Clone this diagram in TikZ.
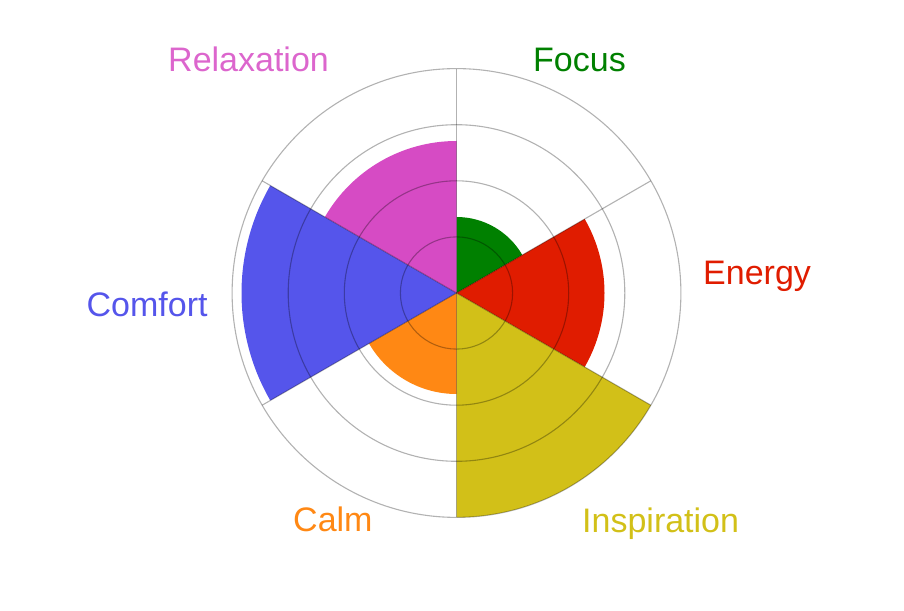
\documentclass[tikz,border=0pt]{standalone}
\usepackage{fontspec}
\setmainfont{Liberation Sans}
\definecolor{cfocus}{RGB}{0,128,0}
\definecolor{cenergy}{RGB}{224,28,0}
\definecolor{cinsp}{RGB}{210,192,24}
\definecolor{ccalm}{RGB}{255,136,20}
\definecolor{ccomfort}{RGB}{85,85,235}
\definecolor{crelax}{RGB}{214,75,196}
\tikzset{
  gridline/.style={draw=black, draw opacity=0.3, line width=1.1pt},
  lbl/.style={anchor=base west, inner sep=0pt, font=\fontsize{34}{40}\selectfont}
}
\begin{document}
\begin{tikzpicture}[x=1pt,y=1pt]
\useasboundingbox (0,0) rectangle (904,610);
\coordinate (C) at (456.5,317);
% sectors
\fill[cfocus]   (C) -- ++(30:76)   arc[start angle=30,  end angle=90,  radius=76]   -- cycle;
\fill[cenergy]  (C) -- ++(-30:148) arc[start angle=-30, end angle=30,  radius=148]  -- cycle;
\fill[cinsp]    (C) -- ++(-90:224.4) arc[start angle=-90, end angle=-30, radius=224.4] -- cycle;
\fill[ccalm]    (C) -- ++(-150:101) arc[start angle=-150, end angle=-90, radius=101] -- cycle;
\fill[ccomfort] (C) -- ++(150:215) arc[start angle=150, end angle=210, radius=215] -- cycle;
\fill[crelax]   (C) -- ++(90:152)  arc[start angle=90,  end angle=150, radius=152]  -- cycle;
% grid circles
\foreach \r in {56.1,112.2,168.3,224.4}
  \draw[gridline] (C) circle[radius=\r];
% radial lines
\foreach \a in {90,30,-30,-90,-150,150}
  \draw[gridline] (C) -- ++(\a:224.4);
% labels
\node[lbl, text=crelax!85!white]   (lrelax)   at (168,538) {Relaxation};
\node[lbl, text=cfocus]   (lfocus)   at (533,538) {Focus};
\node[lbl, text=cenergy]  (lenergy)  at (703,325) {Energy};
\node[lbl, text=ccomfort] (lcomfort) at (86.5,293) {Comfort};
\node[lbl, text=ccalm]    (lcalm)    at (293,78) {Calm};
\node[lbl, text=cinsp]    (linsp)    at (582,77) {Inspiration};
\end{tikzpicture}
\end{document}
